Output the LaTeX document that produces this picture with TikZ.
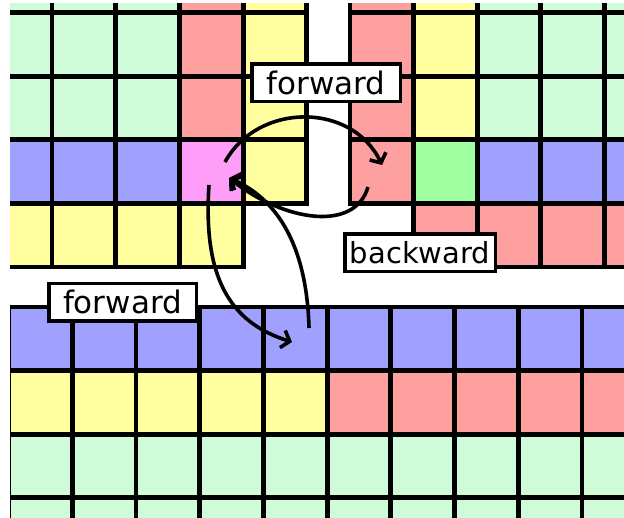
\documentclass[tikz,border=0pt]{standalone}
\usepackage{fontspec}
\setmainfont{DejaVu Sans}
\usetikzlibrary{arrows.meta}
\definecolor{cgreen}{RGB}{208,251,216}
\definecolor{cred}{RGB}{255,160,160}
\definecolor{cyellow}{RGB}{255,255,160}
\definecolor{cblue}{RGB}{160,160,255}
\definecolor{cpink}{RGB}{255,158,248}
\definecolor{cbright}{RGB}{160,255,160}
\newcommand\cellrow[4]{%
  \foreach \cc [count=\i from 0] in {#4}{%
    \fill[\cc] ({#1+\i*#3}, #2) rectangle ++(#3,63.6);
    \draw[gridline] ({#1+\i*#3}, #2) rectangle ++(#3,63.6);
  }}
\begin{document}
\begin{tikzpicture}[x=1pt,y=-1pt,
  gridline/.style={draw=black,line width=4.8pt},
  lbl/.style={draw=black,fill=white,line width=3.5pt,inner sep=0pt,
    minimum height=37.5pt},
  conn/.style={line width=3.6pt,-{Straight Barb[length=7.5pt,width=18pt]}}]
\useasboundingbox (0,0) rectangle (624,517);
\begin{scope}
\clip (10,3) rectangle (624,517);
% top-left block
\cellrow{-11.7}{-51.1}{63.7}{cgreen,cgreen,cgreen,cred,cyellow}
\cellrow{-11.7}{12.5}{63.7}{cgreen,cgreen,cgreen,cred,cyellow}
\cellrow{-11.7}{76.1}{63.7}{cgreen,cgreen,cgreen,cred,cyellow}
\cellrow{-11.7}{139.7}{63.7}{cblue,cblue,cblue,cpink,cyellow}
\cellrow{-11.7}{203.3}{63.7}{cyellow,cyellow,cyellow,cyellow}
% top-right block
\cellrow{350}{-51.1}{63.6}{cred,cyellow,cgreen,cgreen,cgreen}
\cellrow{350}{12.5}{63.6}{cred,cyellow,cgreen,cgreen,cgreen}
\cellrow{350}{76.1}{63.6}{cred,cyellow,cgreen,cgreen,cgreen}
\cellrow{350}{139.7}{63.6}{cred,cbright,cblue,cblue,cblue}
\cellrow{413.6}{203.3}{63.6}{cred,cred,cred,cred}
% bottom block
\cellrow{8.6}{307}{63.7}{cblue,cblue,cblue,cblue,cblue,cblue,cblue,cblue,cblue,cblue}
\cellrow{8.6}{370.6}{63.7}{cyellow,cyellow,cyellow,cyellow,cyellow,cred,cred,cred,cred,cred}
\cellrow{8.6}{434.2}{63.7}{cgreen,cgreen,cgreen,cgreen,cgreen,cgreen,cgreen,cgreen,cgreen,cgreen}
\cellrow{8.6}{497.8}{63.7}{cgreen,cgreen,cgreen,cgreen,cgreen,cgreen,cgreen,cgreen,cgreen,cgreen}
\end{scope}
% labels
\node[lbl,minimum width=148.5pt,font=\fontsize{31}{31}\selectfont] (fwdtop) at (326,82.5) {forward};
\node[lbl,minimum width=150.5pt,font=\fontsize{29}{29}\selectfont] (bwd) at (420,252.5) {backward};
\node[lbl,minimum width=147.5pt,font=\fontsize{31}{31}\selectfont] (fwdlow) at (122.5,302) {forward};
% arrow end points
\coordinate (pinkA) at (225,162);
\coordinate (pinkC) at (209,185);
\coordinate (pinkIn) at (229,178);
\coordinate (redIn) at (382,165);
\coordinate (redOut) at (368,187);
\coordinate (blueIn) at (292,342);
\coordinate (blueOut) at (309,328);
\draw[conn] (pinkA) .. controls (258,102) and (352,102) .. (redIn);
\draw[conn] (redOut) .. controls (355,232) and (285,222) .. (pinkIn);
\draw[conn] (pinkC) .. controls (203,275) and (228,322) .. (blueIn);
\draw[conn] (blueOut) .. controls (307,250) and (280,200) .. (pinkIn);
\end{tikzpicture}
\end{document}
